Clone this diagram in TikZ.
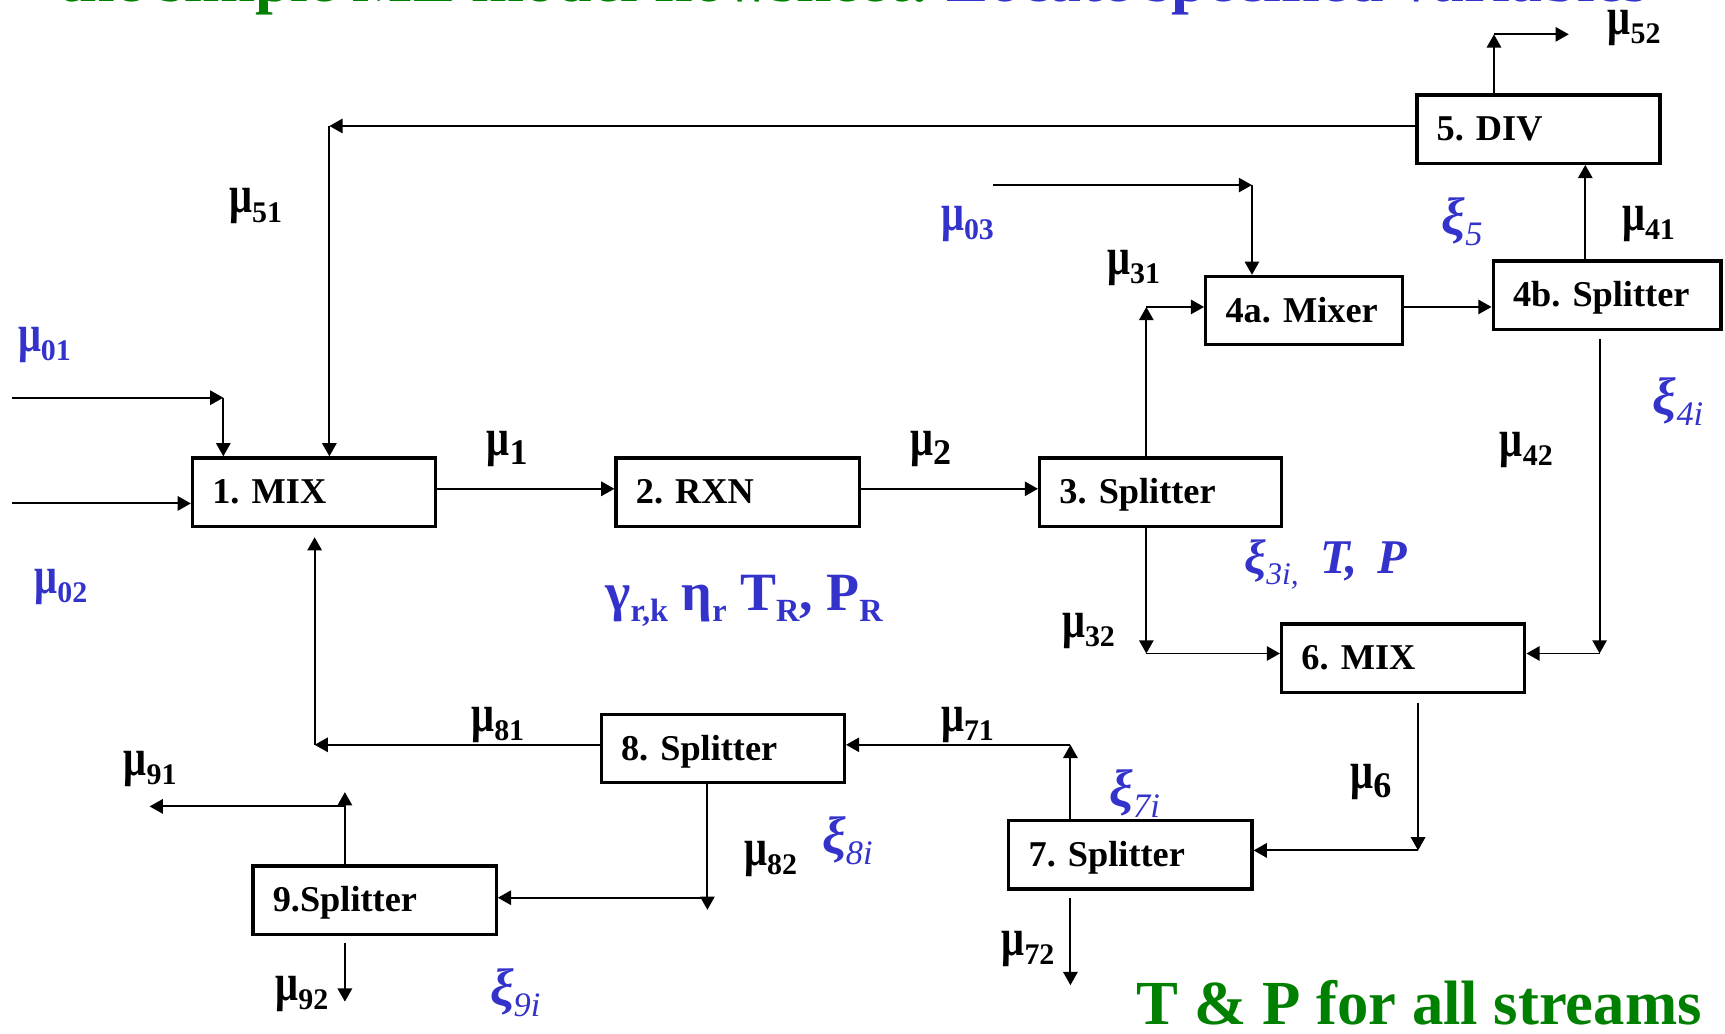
\documentclass[tikz,border=0pt]{standalone}
\usepackage{fontspec}
\setmainfont{Liberation Serif}
\usetikzlibrary{arrows.meta,calc}
\definecolor{lblue}{RGB}{51,51,204}
\definecolor{tgreen}{RGB}{0,128,0}
\newcommand{\musub}[2][0.68]{\scalebox{0.92}[1.2]{μ}\raisebox{-4.2pt}{\scalebox{#1}{#2}}}
\newcommand{\xisub}[1]{{\bfseries ξ}\raisebox{-5pt}{\scalebox{0.65}{#1}}}
\newcommand{\gsub}[1]{\raisebox{-5pt}{\scalebox{0.6}{#1}}}
\begin{document}
\frenchspacing
\begin{tikzpicture}[x=0.5pt,y=-0.5pt,
  box/.style={draw, line width=1.5pt, minimum height=31pt, inner xsep=9pt, inner ysep=0pt,
    align=left, text height=12.4pt, text depth=2pt, font=\bfseries\fontsize{16.5}{18}\selectfont},
  conn/.style={line width=0.9pt, -{Triangle[length=6pt,width=6.5pt]}},
  mulab/.style={anchor=base west, inner sep=0pt, font=\bfseries\fontsize{20}{24}\selectfont},
  xilab/.style={anchor=base west, inner sep=0pt, text=lblue, font=\itshape\fontsize{24}{28}\selectfont},
]
\useasboundingbox (0,0) rectangle (1568,939);
\fill[white] (0,0) rectangle (1568,939);

% title (cut off at the top)
\begin{scope}
\clip (0,0) rectangle (1568,939);
\node[anchor=base west, inner sep=0pt, font=\bfseries\fontsize{29}{32}\selectfont] (title) at (53,1)
  {\textcolor{tgreen}{the simple ME model flowsheet:} \textcolor{lblue}{Locate specified variables}};
\end{scope}

% units
\node[box, text width=92.5pt] (n1) at (285.5,447.3) {1. MIX};
\node[box, text width=92.5pt] (n2) at (670.5,447.3) {2. RXN};
\node[box, text width=92pt] (n3) at (1055,447.3) {3. Splitter};
\node[box, text width=71.5pt] (n4a) at (1185.5,282.3) {4a.~Mixer};
\node[box, text width=85.5pt] (n4b) at (1460.8,268.3) {4b.~Splitter};
\node[box, text width=92.5pt] (n5) at (1398.4,117.4) {5. DIV};
\node[box, text width=92.5pt] (n6) at (1275.5,598.2) {6. MIX};
\node[box, text width=92.5pt] (n7) at (1027.5,777) {7. Splitter};
\node[box, text width=92.5pt] (n8) at (657,680.5) {8. Splitter};
\node[box, text width=92.5pt] (n9) at (340.5,818.2) {9.Splitter};

% streams
\coordinate (c01s) at (11,361.5);
\coordinate (c01) at (203,361.5);
\draw[conn] (c01s) -- (c01);
\draw[conn] (c01) -- (c01 |- n1.north);
\coordinate (c02s) at (11,457.6);
\draw[conn] (c02s) -- (c02s -| n1.west);
\coordinate (c51) at (299.4,114.5);
\draw[conn] (c51 -| n5.west) -- (c51);
\draw[conn] (c51) -- (c51 |- n1.north);
\draw[conn] ([yshift=1.5pt]n1.east) -- ([yshift=1.5pt]n2.west);
\draw[conn] ([yshift=1.5pt]n2.east) -- ([yshift=1.5pt]n3.west);
\coordinate (c31) at (1042,279);
\draw[conn] (c31 |- n3.north) -- (c31);
\draw[conn] (c31) -- (c31 -| n4a.west);
\coordinate (c03s) at (903,168.2);
\coordinate (c03) at (1138,168.2);
\draw[conn] (c03s) -- (c03);
\draw[conn] (c03) -- (c03 |- n4a.north);
\draw[conn] (c31 -| n4a.east) -- (c31 -| n4b.west);
\coordinate (c41) at (1441,200);
\draw[conn] (c41 |- n4b.north) -- (c41 |- n5.south);
\coordinate (c52) at (1358,31.2);
\coordinate (c52e) at (1426,31.2);
\draw[conn] (c52 |- n5.north) -- (c52);
\draw[conn] (c52) -- (c52e);
\coordinate (c42) at (1454,594);
\draw[conn] ($(c42 |- n4b.south)+(0,7.5)$) -- (c42);
\draw[conn] (c42) -- (c42 -| n6.east);
\coordinate (c32) at (1042,594);
\draw[conn] (c32 |- n3.south) -- (c32);
\draw[conn] (c32) -- (c32 -| n6.west);
\coordinate (c6) at (1289,773);
\draw[conn] ($(c6 |- n6.south)+(0,8)$) -- (c6);
\draw[conn] (c6) -- (c6 -| n7.east);
\coordinate (c71) at (973,677);
\draw[conn] (c71 |- n7.north) -- (c71);
\draw[conn] (c71) -- (c71 -| n8.east);
\coordinate (c72) at (973,895.5);
\draw[conn] ($(c72 |- n7.south)+(0,7)$) -- (c72);
\coordinate (c81) at (286,677);
\draw[conn] (c81 -| n8.west) -- (c81);
\draw[conn] (c81) -- ($(c81 |- n1.south)+(0,8.5)$);
\coordinate (c82) at (643,827);
\coordinate (c82h) at (643,816);
\draw[conn] (c82 |- n8.south) -- (c82);
\draw[conn] (c82h) -- (c82h -| n9.east);
\coordinate (c91t) at (313.5,720);
\coordinate (c91) at (313.5,733);
\coordinate (c91e) at (136,733);
\draw[conn] (c91t |- n9.north) -- (c91t);
\draw[conn] (c91) -- (c91e);
\coordinate (c92) at (313.5,910.5);
\draw[conn] ($(c92 |- n9.south)+(0,6)$) -- (c92);

% stream labels
\node[mulab] (l52) at (1461,31) {\musub{52}};
\node[mulab] (l51) at (208,193.5) {\musub{51}};
\node[mulab, text=lblue] (l03) at (855,209.5) {\musub{03}};
\node[mulab] (l31) at (1006,249.5) {\musub{31}};
\node[mulab] (l41) at (1474,209.5) {\musub{41}};
\node[mulab, text=lblue] (l01) at (16,319.5) {\musub{01}};
\node[mulab] (l42) at (1363,414.5) {\musub{42}};
\node[mulab] (l1) at (442,413.6) {\musub[0.82]{1}};
\node[mulab] (l2) at (827,413.6) {\musub[0.82]{2}};
\node[mulab, text=lblue] (l02) at (31,539.5) {\musub{02}};
\node[mulab] (l32) at (965,579.5) {\musub{32}};
\node[mulab] (l81) at (428,664.5) {\musub{81}};
\node[mulab] (l71) at (855,664.5) {\musub{71}};
\node[mulab] (l91) at (112,704.5) {\musub{91}};
\node[mulab] (l6) at (1227,716.5) {\musub[0.82]{6}};
\node[mulab] (l82) at (676,786.5) {\musub{82}};
\node[mulab] (l72) at (910,868.5) {\musub{72}};
\node[mulab] (l92) at (250,909.5) {\musub{92}};

% specified variables
\node[xilab] (x5) at (1310,213) {\xisub{5}};
\node[xilab] (x4) at (1502,377) {\xisub{4i}};
\node[xilab] (x7) at (1008,733) {\xisub{7i}};
\node[xilab] (x8) at (747,776) {\xisub{8i}};
\node[xilab] (x9) at (445,913.6) {\xisub{9i}};
\node[anchor=base west, inner sep=0pt, text=lblue, font=\itshape\fontsize{22}{26}\selectfont] (x3) at (1131,521)
  {\xisub{3i,}\hspace{0.45em}\textbf{T,\hspace{0.15em} P}};
\node[anchor=base west, inner sep=0pt, text=lblue, font=\bfseries\fontsize{24.5}{28}\selectfont] (rxnvars) at (550,555)
  {γ\gsub{r,k} η\gsub{r} T\gsub{R}, P\gsub{R}};
\node[anchor=base west, inner sep=0pt, text=tgreen, font=\bfseries\fontsize{28.5}{32}\selectfont] (tp) at (1033,931)
  {T \& P for all streams};
\end{tikzpicture}
\end{document}
